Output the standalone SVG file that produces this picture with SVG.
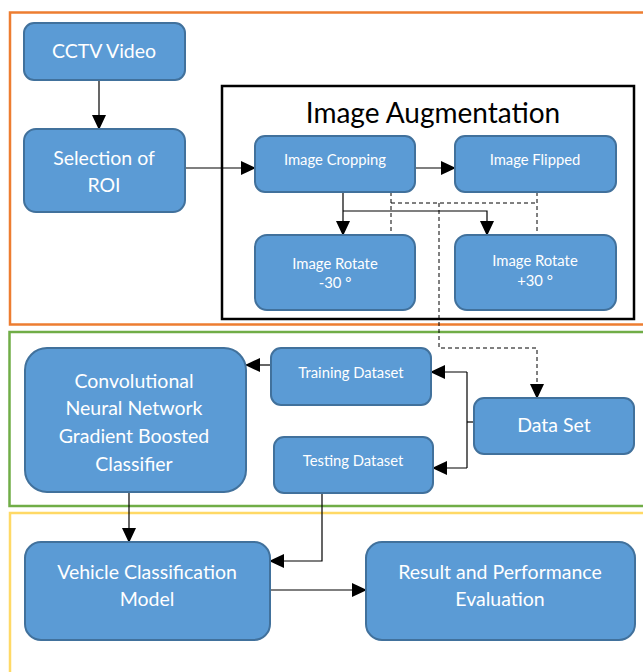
<svg xmlns="http://www.w3.org/2000/svg" width="643" height="672" viewBox="0 0 643 672">
<style>
.box{fill:#5b9bd5;stroke:#41719c;stroke-width:2}
.t{font-family:Lato,"Open Sans","Liberation Sans",sans-serif;fill:#fff;text-anchor:middle}
.s{font-size:14.8px}
.m{font-size:19.5px}
.c{fill:none;stroke:#000;stroke-width:1.2}
.d{fill:none;stroke:#000;stroke-width:1;stroke-dasharray:4,3}
</style>
<defs>
<marker id="ah" markerUnits="userSpaceOnUse" markerWidth="15" markerHeight="14" viewBox="0 0 15 14" refX="14" refY="7" orient="auto">
<path d="M0,0 L15,7 L0,14 Z" fill="#000"/>
</marker>
</defs>
<rect width="643" height="672" fill="#fff"/>
<g id="frames">
<rect x="10" y="12.5" width="640" height="312" fill="none" stroke="#ed7d31" stroke-width="2.5"/>
<rect x="9.5" y="332" width="640" height="174" fill="none" stroke="#70ad47" stroke-width="2.5"/>
<rect x="10" y="513" width="640" height="170" fill="none" stroke="#ffd966" stroke-width="2.5"/>
</g>
<g id="augmentation">
<rect x="222" y="86" width="412" height="233" fill="none" stroke="#000" stroke-width="2.5"/>
<text x="433" y="123" font-family="Lato,'Open Sans','Liberation Sans',sans-serif" font-size="28" text-anchor="middle" fill="#000">Image Augmentation</text>
</g>
<g id="connectors">
<line class="c" x1="99" y1="80" x2="99" y2="129" marker-end="url(#ah)"/>
<line class="c" x1="185" y1="168" x2="255" y2="168" marker-end="url(#ah)"/>
<line class="c" x1="415" y1="168" x2="455" y2="168" marker-end="url(#ah)"/>
<line class="c" x1="343" y1="192" x2="343" y2="235" marker-end="url(#ah)"/>
<polyline class="c" points="343,211 487,211 487,235" marker-end="url(#ah)"/>
<line class="d" x1="391" y1="192" x2="391" y2="235"/>
<line class="d" x1="537" y1="192" x2="537" y2="235"/>
<line class="d" x1="391" y1="203" x2="537" y2="203"/>
<polyline class="d" points="439,203 439,348 537,348 537,398" marker-end="url(#ah)"/>
<polyline class="c" points="474,422 467,422"/>
<polyline class="c" points="467,372 467,468"/>
<line class="c" x1="467" y1="372" x2="431" y2="372" marker-end="url(#ah)"/>
<line class="c" x1="467" y1="468" x2="433" y2="468" marker-end="url(#ah)"/>
<line class="c" x1="271" y1="365" x2="246" y2="365" marker-end="url(#ah)"/>
<line class="c" x1="129" y1="492" x2="129" y2="542" marker-end="url(#ah)"/>
<polyline class="c" points="322,493 322,561 270,561" marker-end="url(#ah)"/>
<line class="c" x1="270" y1="590" x2="366" y2="590" marker-end="url(#ah)"/>
</g>
<g id="cctv"><rect class="box" x="24" y="23" width="161" height="57" rx="10"/><text class="t m" x="104" y="58">CCTV Video</text></g>
<g id="roi"><rect class="box" x="24" y="129" width="161" height="83" rx="12"/><text class="t m" x="104" y="165">Selection of</text><text class="t m" x="104" y="192">ROI</text></g>
<g id="crop"><rect class="box" x="255" y="136" width="160" height="56" rx="10"/><text class="t s" x="335" y="165">Image Cropping</text></g>
<g id="flip"><rect class="box" x="455" y="136" width="161" height="56" rx="10"/><text class="t s" x="535" y="165">Image Flipped</text></g>
<g id="rotm"><rect class="box" x="255" y="235" width="160" height="75" rx="12"/><text class="t s" x="335" y="269">Image Rotate</text><text class="t s" x="335" y="288">-30 °</text></g>
<g id="rotp"><rect class="box" x="455" y="235" width="161" height="75" rx="12"/><text class="t s" x="535" y="266">Image Rotate</text><text class="t s" x="535" y="286">+30 °</text></g>
<g id="cnn"><rect class="box" x="25" y="348" width="221" height="144" rx="22"/><text class="t m" x="134" y="388">Convolutional</text><text class="t m" x="134" y="415">Neural Network</text><text class="t m" x="134" y="443">Gradient Boosted</text><text class="t m" x="134" y="471">Classifier</text></g>
<g id="train"><rect class="box" x="271" y="348" width="160" height="57" rx="10"/><text class="t s" x="351" y="378">Training Dataset</text></g>
<g id="test"><rect class="box" x="274" y="437" width="159" height="56" rx="10"/><text class="t s" x="353" y="466">Testing Dataset</text></g>
<g id="dataset"><rect class="box" x="474" y="398" width="160" height="56" rx="10"/><text class="t m" x="554" y="432">Data Set</text></g>
<g id="vehicle"><rect class="box" x="25" y="542" width="245" height="98" rx="16"/><text class="t m" x="147" y="579">Vehicle Classification</text><text class="t m" x="147" y="606">Model</text></g>
<g id="result"><rect class="box" x="366" y="542" width="269" height="98" rx="16"/><text class="t m" x="500" y="579">Result and Performance</text><text class="t m" x="500" y="606">Evaluation</text></g>
</svg>
